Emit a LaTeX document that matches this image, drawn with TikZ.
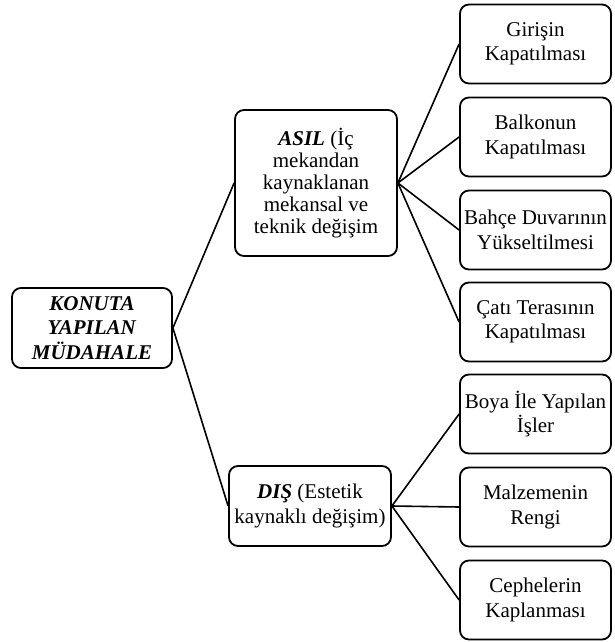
\documentclass[tikz,border=0pt]{standalone}
\usepackage{fontspec}
\setmainfont{Liberation Serif}
\begin{document}
\begin{tikzpicture}[x=1pt,y=-1pt,
  box/.style={draw=black, line width=1.8pt, rounded corners=9pt, fill=white,
    inner sep=0pt, align=center, font=\fontsize{21}{24.5}\selectfont},
  leafbox/.style={box, minimum width=151pt, minimum height=79pt},
  link/.style={draw=black, line width=1.6pt}]
\useasboundingbox (0,0) rectangle (614,642);
% root
\node[box, minimum width=160pt, minimum height=80pt] (root) at (92,328)
  {\textbf{\textit{KONUTA}}\\\textbf{\textit{YAPILAN}}\\\textbf{\textit{MÜDAHALE}}};
% two main groups
\node[box, minimum width=162pt, minimum height=146pt, font=\fontsize{21}{22}\selectfont] (asil) at (316,183)
  {\textbf{\textit{ASIL}} (İç\\mekandan\\kaynaklanan\\mekansal ve\\teknik değişim};
\node[box, minimum width=162pt, minimum height=80pt] (dis) at (310,506)
  {\textbf{\textit{DIŞ}} (Estetik\\kaynaklı değişim)};
% leaves
\node[leafbox] (a1) at (535.5,44) {Girişin\\Kapatılması};
\node[leafbox] (a2) at (535.5,137) {Balkonun\\Kapatılması};
\node[leafbox] (a3) at (535.5,230) {Bahçe Duvarının\\Yükseltilmesi};
\node[leafbox] (a4) at (535.5,322) {Çatı Terasının\\Kapatılması};
\node[leafbox] (d1) at (535.5,414) {Boya İle Yapılan\\İşler};
\node[leafbox] (d2) at (535.5,507) {Malzemenin\\Rengi};
\node[leafbox] (d3) at (535.5,600) {Cephelerin\\Kaplanması};
% connectors
\draw[link] (root.east) -- (asil.west);
\draw[link] (root.east) -- (dis.west);
\foreach \n in {a1,a2,a3,a4} \draw[link] (asil.east) -- (\n.west);
\foreach \n in {d1,d2,d3} \draw[link] (dis.east) -- (\n.west);
\end{tikzpicture}
\end{document}
